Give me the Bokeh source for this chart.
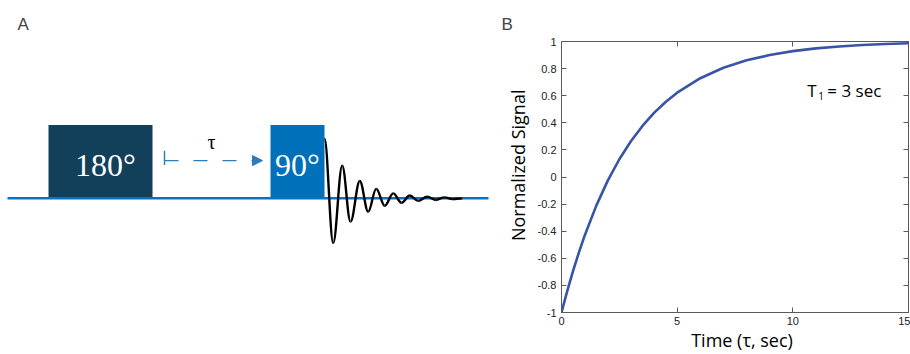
from bokeh.plotting import figure
from bokeh.layouts import row
from bokeh.models import Range1d, Label, Arrow, NormalHead, FixedTicker, LinearAxis
from bokeh.core.properties import value
from bokeh.embed import file_html
from bokeh.resources import INLINE
import math

# ---------------- Panel A data (pulse sequence diagram, diagram units = px) ----------------
pulse_labels = ["180°", "90°"]
pulse_left = [48, 270]
pulse_right = [152, 324]
pulse_height = [74, 74]
pulse_colors = ["#12405B", "#0070BA"]
label_nudge = [5, 0]

seq_start, seq_end = 7, 488

# FID extrema (x position, amplitude)
fid_x = [324, 332.7, 341.7, 350, 359.3, 367.7, 375.7, 384.3, 392.7, 401, 409.3,
         417.7, 426.7, 435, 444, 451.7, 461.7]
fid_y = [60, -45, 33, -23.5, 17.5, -13.5, 9.5, -7.5, 5, -4.5, 2.8, -2.6, 1.6, -1.6,
         1.0, -0.8, 0]

tau_start, tau_end, tau_level = 164, 262, 38

# ---------------- Panel B data (inversion recovery, T1 = 3 s) ----------------
t_sec = [0, 0.25, 0.5, 0.75, 1, 1.5, 2, 2.5, 3, 3.5, 4, 4.5, 5, 6, 7, 8, 9, 10,
         11, 12, 13, 14, 15]
signal = [-1.000, -0.840, -0.693, -0.558, -0.433, -0.213, -0.027, 0.131, 0.264,
          0.377, 0.473, 0.554, 0.622, 0.729, 0.806, 0.861, 0.900, 0.929, 0.949,
          0.963, 0.974, 0.981, 0.987]
x_ticks = [0, 5, 10, 15]
y_ticks = [-1, -0.8, -0.6, -0.4, -0.2, 0, 0.2, 0.4, 0.6, 0.8, 1]
y_tick_labels = ["-1", "-0.8", "-0.6", "-0.4", "-0.2", "0", "0.2", "0.4", "0.6", "0.8", "1"]

TOP, BOTTOM = 41, 40   # frame borders shared by both panels (row aligns frames)

# ================= Panel A =================
pA = figure(width=490, height=354, x_range=Range1d(0, 490), y_range=Range1d(-115, 158),
            output_backend="svg", toolbar_location=None,
            min_border_left=0, min_border_right=0, min_border_top=TOP,
            min_border_bottom=BOTTOM, x_axis_location=None, y_axis_location=None)
pA.grid.visible = False
pA.outline_line_color = None
pA.title.text = "A"
pA.title.align = "left"
pA.title.offset = 17
pA.title.text_font = "Liberation Sans"
pA.title.text_font_size = "17px"
pA.title.text_font_style = "normal"
pA.title.standoff = 16

pA.quad(left=pulse_left, right=pulse_right, bottom=[0, 0], top=pulse_height,
        fill_color=pulse_colors, line_color=None)
centers = [(l + r) / 2 + n for l, r, n in zip(pulse_left, pulse_right, label_nudge)]
pA.text(x=centers, y=[34, 34], text=pulse_labels, text_color="white",
        text_font=value("Liberation Serif"), text_font_size="32px",
        text_align="center", text_baseline="alphabetic")

pA.line(x=[seq_start, seq_end], y=[0, 0], line_color="#0A72BA", line_width=2.5)

k = 1 - 2 / math.pi
x0 = fid_x[:-1]; x1 = fid_x[1:]
y0 = fid_y[:-1]; y1 = fid_y[1:]
cx0 = [a + k * (b - a) for a, b in zip(x0, x1)]
cx1 = [b - k * (b - a) for a, b in zip(x0, x1)]
pA.bezier(x0=x0, y0=y0, x1=x1, y1=y1, cx0=cx0, cy0=y0, cx1=cx1, cy1=y1,
          line_color="black", line_width=2.4)

arrow_col = "#2C7BBA"
pA.segment(x0=[tau_start], y0=[tau_level - 4.5], x1=[tau_start], y1=[tau_level + 10],
           line_color=arrow_col, line_width=1.4)
pA.add_layout(Arrow(end=NormalHead(size=10, fill_color=arrow_col, line_color=arrow_col),
                    x_start=tau_start, y_start=tau_level, x_end=tau_end, y_end=tau_level,
                    line_color=arrow_col, line_width=1.4, line_dash="14 15"))
pA.text(x=[211], y=[57], text=["τ"], text_font=value("Liberation Serif"),
        text_font_size="20px", text_align="center", text_baseline="alphabetic",
        text_color="black")

# ================= Panel B =================
axis_col = "#5a5a5a"
pB = figure(width=420, height=354, x_range=Range1d(0, 15), y_range=Range1d(-1, 1),
            output_backend="svg", toolbar_location=None,
            min_border_left=71, min_border_right=2, min_border_top=TOP,
            min_border_bottom=BOTTOM)
pB.grid.visible = False
pB.outline_line_color = axis_col
pB.title.text = "B"
pB.title.align = "left"
pB.title.offset = -60
pB.title.text_font = "Liberation Sans"
pB.title.text_font_size = "17px"
pB.title.text_font_style = "normal"
pB.title.standoff = 16

pB.line(t_sec, signal, line_color="#3953A6", line_width=2.6)

for ax in pB.xaxis:
    ax.ticker = FixedTicker(ticks=x_ticks)
for ax in pB.yaxis:
    ax.ticker = FixedTicker(ticks=y_ticks)
    ax.major_label_overrides = dict(zip(y_ticks, y_tick_labels))

top_ax = LinearAxis(ticker=FixedTicker(ticks=x_ticks))
right_ax = LinearAxis(ticker=FixedTicker(ticks=y_ticks))
for ax in [top_ax, right_ax]:
    ax.major_label_text_font_size = "0px"
    ax.major_label_text_color = None
    ax.major_label_standoff = 0
pB.add_layout(top_ax, "above")
pB.add_layout(right_ax, "right")

for ax in pB.axis:
    ax.axis_line_color = axis_col
    ax.major_tick_line_color = axis_col
    ax.major_tick_in = 5
    ax.major_tick_out = 0
    ax.minor_tick_in = 0
    ax.minor_tick_out = 0
    ax.minor_tick_line_color = None

bx = pB.below[0]
bx.major_label_text_font = "Liberation Sans"
bx.major_label_text_font_size = "11px"
bx.major_label_text_color = "#222222"
bx.major_label_standoff = 4
bx.axis_label = "\u00a0\u00a0\u00a0Time (τ, sec)"
bx.axis_label_text_font = "Open Sans"
bx.axis_label_text_font_size = "18px"
bx.axis_label_text_font_style = "normal"
bx.axis_label_text_color = "black"
bx.axis_label_standoff = 0

ly = pB.left[0]
ly.major_label_text_font = "Liberation Sans"
ly.major_label_text_font_size = "11px"
ly.major_label_text_color = "#222222"
ly.major_label_standoff = 5
ly.axis_label = "\u00a0" * 5 + "Normalized Signal"
ly.axis_label_text_font = "Open Sans"
ly.axis_label_text_font_size = "18px"
ly.axis_label_text_font_style = "normal"
ly.axis_label_text_color = "black"
ly.axis_label_standoff = 5

pB.add_layout(Label(x=10.62, y=0.638, text="T", text_baseline="alphabetic",
                    text_font="Open Sans", text_font_size="17px", text_color="black"))
pB.add_layout(Label(x=11.1, y=0.598, text="1", text_baseline="alphabetic",
                    text_font="Open Sans", text_font_size="10px", text_color="black"))
pB.add_layout(Label(x=11.49, y=0.638, text="= 3 sec", text_baseline="alphabetic",
                    text_font="Open Sans", text_font_size="17px", text_color="black"))

layout = row(pA, pB)
open("out.html", "w").write(file_html(layout, INLINE))
